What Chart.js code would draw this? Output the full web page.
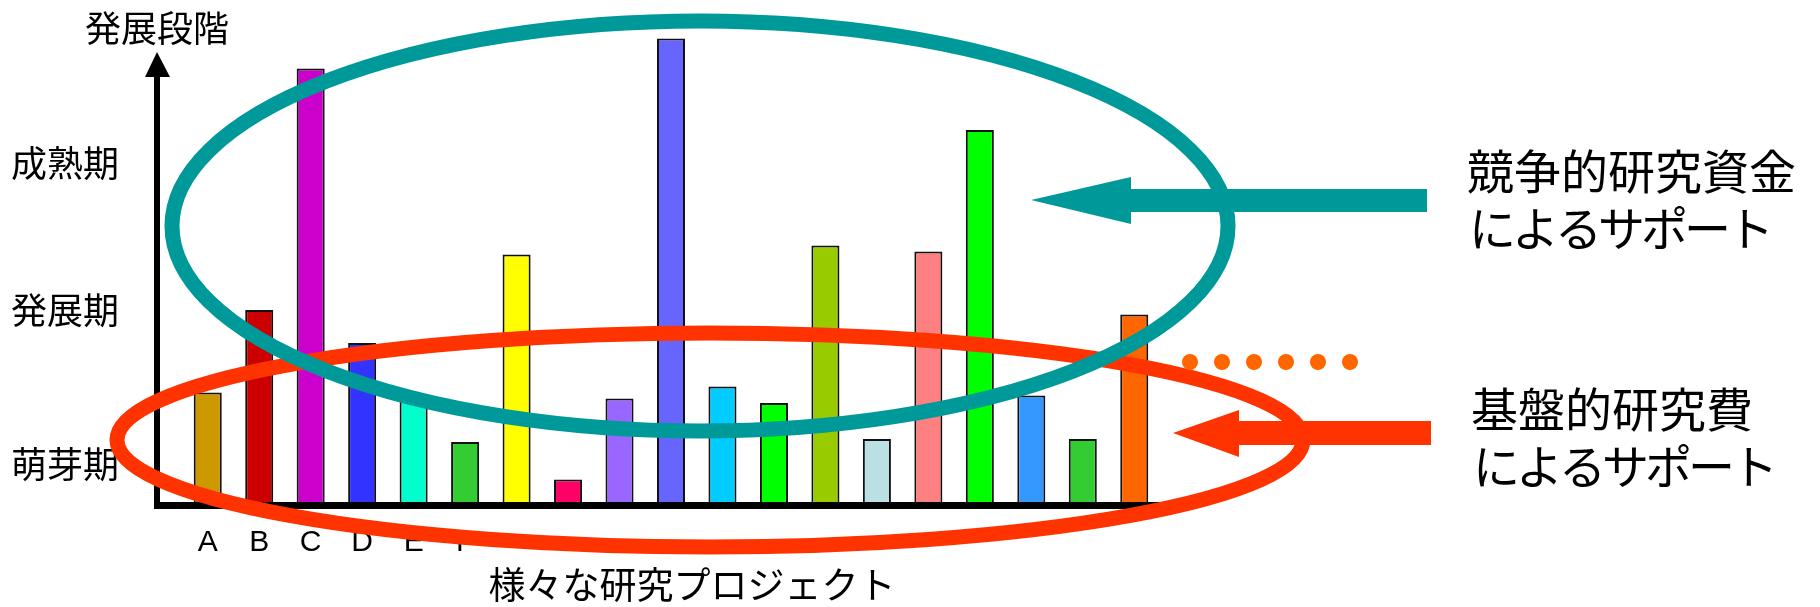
<!DOCTYPE html>
<html lang="ja">
<head>
<meta charset="utf-8">
<title>発展段階と研究支援</title>
<script src="https://cdn.jsdelivr.net/npm/chart.js@4.4.1/dist/chart.umd.min.js"></script>
<style>
  html, body { margin: 0; padding: 0; background: #fff; }
  #wrap { width: 1820px; height: 607px; position: relative; }
</style>
</head>
<body>
<div id="wrap"><canvas id="stageChart"></canvas></div>
<script>
// projects (only A-F carry a visible label in the original)
const projects = ['A', 'B', 'C', 'D', 'E', 'F', '', '', '', '', '', '', '', '', '', '', '', '', ''];
// development stage reached by each project (1 unit = one stage band)
const stageValues = [0.73, 1.28, 2.89, 1.06, 0.71, 0.40, 1.65, 0.15, 0.69, 3.09,
                     0.77, 0.66, 1.71, 0.42, 1.67, 2.48, 0.71, 0.42, 1.25];
const barColors = ['#CC9900', '#CC0000', '#CC00CC', '#3333FF', '#00FFCC', '#33CC33', '#FFFF00',
                   '#FF0066', '#9966FF', '#6666FF', '#00CCFF', '#00FF00', '#99CC00', '#BBE0E3',
                   '#FF8080', '#00FF00', '#3399FF', '#33CC33', '#FF6600'];
const stageTicks = [0.25, 1.28, 2.26];
const stageLabels = ['萌芽期', '発展期', '成熟期'];
const yTitle = '発展段階';
const xTitle = '様々な研究プロジェクト';
const competitiveNote = ['競争的研究資金', 'によるサポート'];
const basicNote = ['基盤的研究費', 'によるサポート'];

const JP_FONT = '"Noto Sans CJK JP", "Noto Sans", sans-serif';

// axes, support ellipses, arrows and notes drawn over the bars
const overlayPlugin = {
  id: 'overlay',
  afterDraw(chart) {
    const ctx = chart.ctx;
    const ca = chart.chartArea;
    const axisX = ca.left - 25;
    ctx.save();

    // axes
    ctx.fillStyle = '#000';
    ctx.fillRect(axisX - 3, ca.bottom, ca.right - axisX + 3, 7);
    ctx.fillRect(axisX - 3, 75, 6, ca.bottom + 7 - 75);
    ctx.beginPath();
    ctx.moveTo(axisX, 52);
    ctx.lineTo(axisX - 12, 77);
    ctx.lineTo(axisX + 13, 77);
    ctx.closePath();
    ctx.fill();

    // basic funding ellipse
    ctx.lineWidth = 15;
    ctx.strokeStyle = '#FF3300';
    ctx.beginPath();
    ctx.ellipse(710, 440, 593, 107, 0, 0, Math.PI * 2);
    ctx.stroke();

    // competitive funding ellipse
    ctx.strokeStyle = '#009999';
    ctx.beginPath();
    ctx.ellipse(700, 226, 528, 205, 0, 0, Math.PI * 2);
    ctx.stroke();

    // teal arrow
    ctx.fillStyle = '#009999';
    ctx.fillRect(1130, 189, 297, 23);
    ctx.beginPath();
    ctx.moveTo(1031, 200);
    ctx.lineTo(1131, 177);
    ctx.lineTo(1131, 224);
    ctx.closePath();
    ctx.fill();

    // red arrow
    ctx.fillStyle = '#FF3300';
    ctx.fillRect(1238, 421, 193, 24);
    ctx.beginPath();
    ctx.moveTo(1173, 433);
    ctx.lineTo(1239, 410);
    ctx.lineTo(1239, 457);
    ctx.closePath();
    ctx.fill();

    // dotted continuation
    ctx.fillStyle = '#FF6600';
    for (let i = 0; i < 6; i++) {
      ctx.beginPath();
      ctx.arc(1190 + i * 32, 362, 8, 0, Math.PI * 2);
      ctx.fill();
    }

    // texts
    ctx.fillStyle = '#000';
    ctx.textBaseline = 'middle';
    ctx.textAlign = 'center';
    ctx.font = '36px ' + JP_FONT;
    ctx.fillText(yTitle, axisX, 28);
    ctx.font = '37px ' + JP_FONT;
    ctx.fillText(xTitle, 692, 585);

    ctx.textAlign = 'left';
    ctx.font = '47px ' + JP_FONT;
    ctx.fillText(competitiveNote[0], 1467, 171);
    ctx.fillText(basicNote[0], 1471, 409);
    // kana lines are set tighter in the original
    ctx.letterSpacing = '-4px';
    ctx.fillText(competitiveNote[1], 1469, 228);
    ctx.fillText(basicNote[1], 1473, 466);
    ctx.letterSpacing = '0px';
    ctx.restore();
  }
};

new Chart(document.getElementById('stageChart'), {
  type: 'bar',
  data: {
    labels: projects,
    datasets: [{
      data: stageValues,
      backgroundColor: barColors,
      borderColor: '#111',
      borderWidth: 2,
      barPercentage: 0.545,
      categoryPercentage: 1
    }]
  },
  options: {
    responsive: true,
    maintainAspectRatio: false,
    animation: false,
    layout: { padding: { left: 11, right: 660, top: 22, bottom: 45 } },
    plugins: {
      legend: { display: false },
      tooltip: { enabled: false }
    },
    scales: {
      x: {
        grid: { display: false, drawTicks: false },
        border: { display: false },
        afterFit: (scale) => { scale.height = 60; },
        ticks: {
          autoSkip: false,
          maxRotation: 0,
          padding: 23,
          color: '#000',
          font: { family: '"Liberation Sans", Arial, sans-serif', size: 30 }
        }
      },
      y: {
        min: 0,
        max: 3.2,
        grid: { display: false, drawTicks: false },
        border: { display: false },
        afterFit: (scale) => { scale.width = 171; },
        afterBuildTicks: (scale) => { scale.ticks = stageTicks.map(v => ({ value: v })); },
        ticks: {
          crossAlign: 'far',
          padding: 0,
          color: '#000',
          font: { family: JP_FONT, size: 36 },
          callback: (value, index) => stageLabels[index]
        }
      }
    }
  },
  plugins: [overlayPlugin]
});
</script>
</body>
</html>
